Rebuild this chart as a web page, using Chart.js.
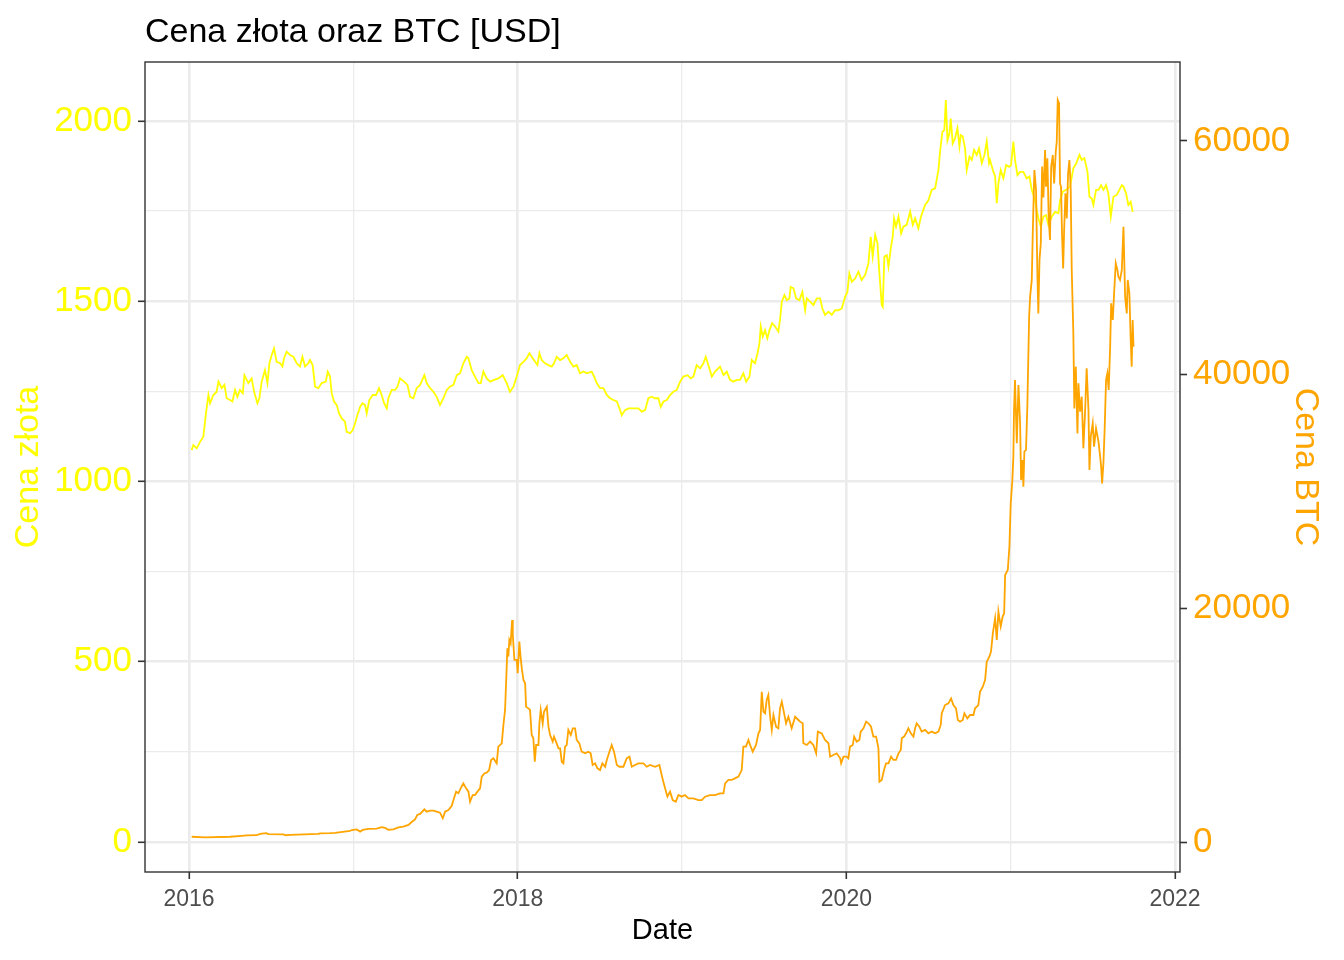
<!DOCTYPE html>
<html>
<head>
<meta charset="utf-8">
<script src="https://cdn.jsdelivr.net/npm/chart.js@4.4.1/dist/chart.umd.min.js"></script>
<style>
  html, body { margin: 0; padding: 0; background: #ffffff; }
  canvas { display: block; }
</style>
</head>
<body>
<canvas id="chart" width="1344" height="960"></canvas>
<script>
// dates as decimal years
var goldYear = [
  2016.016, 2016.026, 2016.047, 2016.067, 2016.087, 2016.103, 2016.118, 2016.128, 2016.148, 2016.168,
  2016.179, 2016.199, 2016.215, 2016.229, 2016.250, 2016.264, 2016.280, 2016.294, 2016.310, 2016.327,
  2016.337, 2016.351, 2016.361, 2016.381, 2016.396, 2016.416, 2016.428, 2016.442, 2016.462, 2016.477,
  2016.489, 2016.503, 2016.517, 2016.533, 2016.554, 2016.568, 2016.578, 2016.594, 2016.615, 2016.635,
  2016.655, 2016.675, 2016.690, 2016.706, 2016.726, 2016.736, 2016.752, 2016.767, 2016.787, 2016.807,
  2016.832, 2016.844, 2016.858, 2016.868, 2016.882, 2016.899, 2016.913, 2016.929, 2016.949, 2016.959,
  2016.980, 2016.996, 2017.010, 2017.024, 2017.041, 2017.055, 2017.071, 2017.081, 2017.097, 2017.118,
  2017.138, 2017.156, 2017.172, 2017.187, 2017.203, 2017.213, 2017.233, 2017.254, 2017.268, 2017.284,
  2017.308, 2017.329, 2017.345, 2017.365, 2017.385, 2017.406, 2017.432, 2017.446, 2017.467, 2017.487,
  2017.507, 2017.527, 2017.548, 2017.568, 2017.588, 2017.609, 2017.629, 2017.649, 2017.669, 2017.690,
  2017.700, 2017.720, 2017.740, 2017.761, 2017.775, 2017.791, 2017.811, 2017.832, 2017.856, 2017.882,
  2017.909, 2017.933, 2017.953, 2017.974, 2017.994, 2018.014, 2018.035, 2018.055, 2018.071, 2018.085,
  2018.106, 2018.120, 2018.132, 2018.146, 2018.166, 2018.187, 2018.207, 2018.221, 2018.237, 2018.258,
  2018.278, 2018.298, 2018.319, 2018.339, 2018.359, 2018.379, 2018.400, 2018.420, 2018.450, 2018.465,
  2018.481, 2018.501, 2018.521, 2018.542, 2018.562, 2018.582, 2018.603, 2018.623, 2018.633, 2018.653,
  2018.674, 2018.694, 2018.714, 2018.734, 2018.755, 2018.775, 2018.795, 2018.815, 2018.836, 2018.856,
  2018.870, 2018.887, 2018.907, 2018.927, 2018.947, 2018.968, 2018.988, 2019.008, 2019.033, 2019.053,
  2019.069, 2019.089, 2019.110, 2019.130, 2019.144, 2019.160, 2019.181, 2019.201, 2019.231, 2019.252,
  2019.272, 2019.292, 2019.312, 2019.333, 2019.353, 2019.373, 2019.390, 2019.410, 2019.424, 2019.444,
  2019.459, 2019.471, 2019.479, 2019.491, 2019.505, 2019.519, 2019.532, 2019.548, 2019.566, 2019.586,
  2019.596, 2019.607, 2019.623, 2019.637, 2019.653, 2019.661, 2019.678, 2019.694, 2019.714, 2019.732,
  2019.749, 2019.759, 2019.779, 2019.799, 2019.820, 2019.840, 2019.854, 2019.870, 2019.891, 2019.911,
  2019.931, 2019.951, 2019.972, 2019.992, 2020.006, 2020.018, 2020.033, 2020.053, 2020.073, 2020.093,
  2020.114, 2020.134, 2020.148, 2020.160, 2020.175, 2020.189, 2020.201, 2020.215, 2020.221, 2020.231,
  2020.246, 2020.256, 2020.270, 2020.282, 2020.290, 2020.302, 2020.317, 2020.333, 2020.347, 2020.367,
  2020.388, 2020.404, 2020.418, 2020.438, 2020.454, 2020.479, 2020.499, 2020.519, 2020.540, 2020.560,
  2020.570, 2020.584, 2020.596, 2020.605, 2020.615, 2020.627, 2020.635, 2020.647, 2020.661, 2020.676,
  2020.688, 2020.696, 2020.708, 2020.722, 2020.732, 2020.749, 2020.763, 2020.777, 2020.793, 2020.807,
  2020.824, 2020.840, 2020.854, 2020.868, 2020.874, 2020.891, 2020.905, 2020.915, 2020.925, 2020.939,
  2020.955, 2020.972, 2020.990, 2021.002, 2021.016, 2021.026, 2021.041, 2021.057, 2021.077, 2021.097,
  2021.114, 2021.128, 2021.148, 2021.168, 2021.183, 2021.199, 2021.215, 2021.229, 2021.250, 2021.270,
  2021.290, 2021.300, 2021.317, 2021.337, 2021.361, 2021.381, 2021.398, 2021.418, 2021.432, 2021.448,
  2021.467, 2021.479, 2021.493, 2021.503, 2021.519, 2021.534, 2021.550, 2021.564, 2021.580, 2021.594,
  2021.609, 2021.625, 2021.645, 2021.661, 2021.676, 2021.686, 2021.702, 2021.716, 2021.730, 2021.742
];
var goldPrice = [
  1087, 1101, 1092, 1110, 1124, 1189, 1240, 1217, 1240, 1249,
  1277, 1259, 1268, 1231, 1226, 1222, 1254, 1235, 1254, 1245,
  1295, 1282, 1273, 1286, 1249, 1217, 1231, 1277, 1309, 1273,
  1328, 1351, 1369, 1332, 1328, 1319, 1342, 1360, 1351, 1346,
  1328, 1319, 1346, 1319, 1328, 1337, 1323, 1263, 1259, 1273,
  1277, 1305, 1291, 1245, 1222, 1212, 1189, 1175, 1166, 1138,
  1134, 1143, 1161, 1184, 1207, 1217, 1212, 1189, 1226, 1240,
  1240, 1259, 1240, 1217, 1203, 1231, 1254, 1254, 1263, 1286,
  1277, 1268, 1235, 1231, 1259, 1268, 1295, 1273, 1259, 1249,
  1235, 1212, 1231, 1254, 1263, 1268, 1295, 1300, 1328, 1346,
  1342, 1309, 1291, 1273, 1273, 1305, 1286, 1277, 1282, 1286,
  1295, 1273, 1249, 1263, 1291, 1323, 1332, 1342, 1356, 1346,
  1332, 1323, 1356, 1337, 1328, 1323, 1319, 1328, 1346, 1337,
  1342, 1351, 1332, 1319, 1323, 1300, 1305, 1300, 1305, 1291,
  1273, 1259, 1259, 1240, 1231, 1226, 1222, 1198, 1184, 1198,
  1203, 1203, 1203, 1203, 1194, 1198, 1231, 1235, 1231, 1231,
  1207, 1222, 1226, 1240, 1249, 1254, 1277, 1291, 1295, 1286,
  1291, 1323, 1314, 1328, 1346, 1323, 1291, 1305, 1319, 1295,
  1305, 1282, 1277, 1282, 1282, 1300, 1277, 1291, 1337, 1328,
  1355, 1383, 1430, 1402, 1420, 1397, 1420, 1439, 1430, 1416,
  1448, 1499, 1517, 1503, 1508, 1540, 1536, 1508, 1503, 1526,
  1475, 1508, 1499, 1489, 1508, 1508, 1480, 1462, 1471, 1462,
  1475, 1475, 1480, 1512, 1526, 1577, 1554, 1563, 1582, 1559,
  1573, 1605, 1679, 1624, 1684, 1661, 1577, 1490, 1485, 1624,
  1628, 1596, 1647, 1679, 1730, 1707, 1735, 1688, 1707, 1712,
  1749, 1712, 1730, 1702, 1735, 1767, 1780, 1809, 1813, 1864,
  1915, 1970, 1975, 2058, 1947, 1966, 2007, 1938, 1952, 1980,
  1929, 1961, 1957, 1924, 1864, 1901, 1892, 1920, 1906, 1924,
  1883, 1906, 1943, 1883, 1892, 1864, 1846, 1772, 1827, 1864,
  1841, 1878, 1873, 1878, 1943, 1892, 1850, 1859, 1859, 1841,
  1846, 1809, 1780, 1730, 1707, 1735, 1739, 1712, 1735, 1748,
  1744, 1780, 1804, 1809, 1818, 1869, 1882, 1906, 1892, 1897,
  1859, 1790, 1785, 1767, 1809, 1809, 1822, 1809, 1822, 1799,
  1735, 1790, 1795, 1809, 1822, 1818, 1799, 1767, 1776, 1748
];

var btcYear = [
  2016.016, 2016.097, 2016.250, 2016.320, 2016.351, 2016.412, 2016.432, 2016.469, 2016.483, 2016.574,
  2016.590, 2016.615, 2016.787, 2016.797, 2016.858, 2016.888, 2016.980, 2016.990, 2017.020, 2017.041,
  2017.057, 2017.091, 2017.142, 2017.172, 2017.193, 2017.213, 2017.243, 2017.274, 2017.304, 2017.335,
  2017.355, 2017.375, 2017.389, 2017.406, 2017.432, 2017.446, 2017.467, 2017.487, 2017.507, 2017.527,
  2017.544, 2017.558, 2017.578, 2017.598, 2017.609, 2017.625, 2017.639, 2017.653, 2017.669, 2017.686,
  2017.700, 2017.710, 2017.726, 2017.740, 2017.755, 2017.771, 2017.781, 2017.797, 2017.811, 2017.826,
  2017.838, 2017.852, 2017.872, 2017.882, 2017.903, 2017.913, 2017.923, 2017.933, 2017.937, 2017.943,
  2017.949, 2017.957, 2017.966, 2017.970, 2017.980, 2017.994, 2018.000, 2018.010, 2018.018, 2018.026,
  2018.035, 2018.045, 2018.051, 2018.065, 2018.075, 2018.085, 2018.095, 2018.104, 2018.112, 2018.126,
  2018.132, 2018.140, 2018.152, 2018.160, 2018.177, 2018.187, 2018.197, 2018.213, 2018.221, 2018.233,
  2018.248, 2018.258, 2018.268, 2018.278, 2018.288, 2018.298, 2018.308, 2018.323, 2018.335, 2018.349,
  2018.359, 2018.375, 2018.389, 2018.410, 2018.430, 2018.444, 2018.456, 2018.471, 2018.485, 2018.501,
  2018.515, 2018.532, 2018.542, 2018.558, 2018.572, 2018.586, 2018.603, 2018.619, 2018.643, 2018.663,
  2018.680, 2018.694, 2018.714, 2018.734, 2018.765, 2018.785, 2018.805, 2018.836, 2018.862, 2018.876,
  2018.886, 2018.897, 2018.911, 2018.927, 2018.943, 2018.962, 2018.978, 2018.998, 2019.018, 2019.039,
  2019.069, 2019.099, 2019.120, 2019.140, 2019.170, 2019.201, 2019.231, 2019.252, 2019.262, 2019.282,
  2019.302, 2019.322, 2019.343, 2019.363, 2019.373, 2019.389, 2019.404, 2019.414, 2019.430, 2019.450,
  2019.465, 2019.475, 2019.485, 2019.495, 2019.505, 2019.515, 2019.525, 2019.536, 2019.546, 2019.556,
  2019.572, 2019.586, 2019.596, 2019.607, 2019.621, 2019.633, 2019.647, 2019.667, 2019.688, 2019.708,
  2019.718, 2019.734, 2019.738, 2019.759, 2019.779, 2019.799, 2019.816, 2019.826, 2019.850, 2019.870,
  2019.891, 2019.901, 2019.921, 2019.941, 2019.962, 2019.968, 2019.982, 2020.002, 2020.012, 2020.022,
  2020.039, 2020.047, 2020.063, 2020.079, 2020.087, 2020.104, 2020.120, 2020.134, 2020.150, 2020.164,
  2020.181, 2020.195, 2020.201, 2020.215, 2020.229, 2020.241, 2020.256, 2020.272, 2020.286, 2020.302,
  2020.317, 2020.331, 2020.337, 2020.351, 2020.363, 2020.377, 2020.392, 2020.408, 2020.418, 2020.428,
  2020.444, 2020.458, 2020.479, 2020.499, 2020.519, 2020.540, 2020.560, 2020.574, 2020.580, 2020.600,
  2020.621, 2020.637, 2020.651, 2020.667, 2020.678, 2020.692, 2020.708, 2020.718, 2020.736, 2020.753,
  2020.773, 2020.783, 2020.803, 2020.813, 2020.830, 2020.844, 2020.854, 2020.870, 2020.880, 2020.891,
  2020.905, 2020.915, 2020.925, 2020.939, 2020.951, 2020.960, 2020.966, 2020.982, 2020.992, 2021.000,
  2021.010, 2021.016, 2021.020, 2021.026, 2021.037, 2021.047, 2021.057, 2021.063, 2021.071, 2021.077,
  2021.083, 2021.093, 2021.101, 2021.112, 2021.118, 2021.128, 2021.134, 2021.144, 2021.154, 2021.162,
  2021.168, 2021.175, 2021.183, 2021.191, 2021.199, 2021.209, 2021.215, 2021.223, 2021.231, 2021.239,
  2021.246, 2021.256, 2021.264, 2021.274, 2021.280, 2021.286, 2021.294, 2021.300, 2021.306, 2021.312,
  2021.319, 2021.325, 2021.333, 2021.341, 2021.349, 2021.357, 2021.365, 2021.371, 2021.381, 2021.387,
  2021.396, 2021.406, 2021.412, 2021.422, 2021.432, 2021.442, 2021.452, 2021.462, 2021.473, 2021.479,
  2021.487, 2021.499, 2021.507, 2021.519, 2021.534, 2021.544, 2021.550, 2021.556, 2021.564, 2021.572,
  2021.580, 2021.588, 2021.596, 2021.605, 2021.611, 2021.621, 2021.629, 2021.639, 2021.649, 2021.655,
  2021.665, 2021.676, 2021.686, 2021.696, 2021.706, 2021.712, 2021.722, 2021.730, 2021.736, 2021.742,
  2021.747
];
var btcPrice = [
  450, 400, 450, 520, 560, 580, 700, 760, 680, 660,
  580, 610, 700, 740, 760, 780, 960, 1027, 1080, 890,
  1030, 1115, 1140, 1270, 1210, 1050, 1080, 1250, 1310, 1460,
  1710, 1940, 2310, 2400, 2800, 2600, 2680, 2680, 2600, 2510,
  2030, 2600, 2740, 3080, 3590, 4300, 4170, 4590, 5020, 4590,
  4310, 3450, 4020, 4020, 4310, 4590, 5590, 5870, 5930, 6160,
  7020, 7160, 6730, 8160, 8440, 10010, 11300, 15000, 16580, 15870,
  17290, 17000, 19000, 17720, 15580, 15580, 14440, 17150, 15730, 14730,
  13870, 13580, 11580, 11440, 11300, 9160, 8870, 6870, 8300, 8300,
  10150, 11300, 10150, 11150, 11580, 9870, 9160, 8590, 9020, 8590,
  8020, 8020, 6870, 6730, 8160, 8300, 9590, 9160, 9730, 9730,
  8730, 8440, 7730, 7590, 7730, 7590, 6590, 6730, 6300, 6160,
  6730, 6440, 7020, 7730, 8300, 7730, 6590, 6440, 6440, 7160,
  7300, 6440, 6590, 6730, 6730, 6440, 6590, 6440, 6590, 5730,
  5160, 4590, 3880, 4310, 3590, 3450, 4020, 3880, 4020, 3730,
  3730, 3590, 3590, 3880, 4020, 4020, 4160, 4160, 5020, 5310,
  5310, 5450, 5590, 6160, 8160, 8160, 8730, 8300, 7730, 8300,
  9300, 9590, 12860, 11150, 11010, 12150, 12580, 10720, 9590, 10860,
  9870, 9730, 11440, 12010, 11010, 10150, 10720, 9730, 10720, 10440,
  10300, 10160, 8450, 8300, 8590, 8300, 7590, 9450, 9300, 8730,
  8450, 7300, 7450, 7590, 7160, 6730, 7300, 7300, 7160, 8160,
  8300, 9020, 8590, 8730, 9450, 9730, 10300, 10160, 9870, 9020,
  9020, 8020, 5160, 5310, 6160, 6730, 6730, 7300, 7020, 7020,
  7590, 7880, 8880, 9020, 9300, 9730, 9300, 9020, 9730, 10160,
  9870, 9450, 9590, 9300, 9450, 9300, 9450, 10020, 11010, 11720,
  11870, 12290, 11720, 11440, 10440, 10300, 10440, 11010, 10580, 10870,
  10870, 11440, 11720, 12860, 13290, 13860, 15430, 15860, 16290, 17860,
  19150, 17300, 19720, 18440, 19290, 19580, 22850, 23280, 25270, 28980,
  30980, 32980, 36970, 39540, 34120, 39100, 35830, 30980, 32690, 30410,
  33400, 33550, 37250, 44960, 46670, 48100, 52090, 57510, 55800, 48670,
  45240, 49810, 51230, 57800, 55150, 59220, 56080, 58510, 53370, 51520,
  57800, 58790, 56360, 59070, 59930, 63500, 63220, 56360, 56080, 52080,
  49090, 52370, 55510, 53370, 57230, 58360, 55930, 49090, 43530, 37110,
  40680, 34970, 39250, 36820, 38110, 33690, 36680, 40530, 36960, 31840,
  34690, 35830, 33830, 35400, 34260, 33000, 32130, 30690, 32410, 35540,
  39540, 40110, 38680, 42390, 46100, 44680, 46960, 49530, 48960, 48390,
  48100, 48960, 52660, 46670, 45240, 48100, 46960, 42960, 40680, 44680,
  42390
];

// axis breaks: labelled (major) and unlabelled (minor) grid lines
var xTicks = [2016, 2018, 2020, 2022];
var xMinor = [2017, 2019, 2021];
var goldTicks = [0, 500, 1000, 1500, 2000];
var goldMinor = [250, 750, 1250, 1750];
var btcTicks = [0, 20000, 40000, 60000];

var FONT = 'Arial, "Liberation Sans", sans-serif';
var GOLD = '#FFFF00';
var BTC = '#FFA500';
var GRID = '#EBEBEB';
var DARK = '#333333';

function pairs(xs, ys) {
  return xs.map(function (x, i) { return { x: x, y: ys[i] }; });
}

function setTicks(values) {
  return function (scale) {
    scale.ticks = values.slice().sort(function (a, b) { return a - b; })
      .map(function (v) { return { value: v }; });
  };
}

var frame = {
  id: 'frame',
  afterDraw: function (chart) {
    var ctx = chart.ctx, a = chart.chartArea;
    ctx.save();
    ctx.strokeStyle = DARK;
    ctx.lineWidth = 1.4;
    ctx.strokeRect(a.left, a.top, a.right - a.left, a.bottom - a.top);
    ctx.fillStyle = '#000000';
    ctx.font = '34px ' + FONT;
    ctx.textBaseline = 'alphabetic';
    ctx.textAlign = 'left';
    ctx.fillText('Cena złota oraz BTC [USD]', a.left, 42);
    ctx.restore();
  }
};

new Chart(document.getElementById('chart'), {
  type: 'line',
  data: {
    datasets: [{
      label: 'BTC',
      data: pairs(btcYear, btcPrice),
      yAxisID: 'y2',
      borderColor: BTC,
      borderWidth: 1.8,
      pointRadius: 0,
      tension: 0,
      order: 0
    }, {
      label: 'Złoto',
      data: pairs(goldYear, goldPrice),
      yAxisID: 'y',
      borderColor: GOLD,
      borderWidth: 1.8,
      pointRadius: 0,
      tension: 0,
      order: 1
    }]
  },
  options: {
    responsive: false,
    animation: false,
    devicePixelRatio: 1,
    layout: { padding: { top: 62, left: 0, right: 0, bottom: 0 } },
    plugins: { legend: { display: false }, tooltip: { enabled: false } },
    scales: {
      x: {
        type: 'linear',
        min: 2015.732,
        max: 2022.03,
        afterBuildTicks: setTicks(xTicks.concat(xMinor)),
        afterFit: function (s) { s.height = 88; },
        border: { display: false },
        grid: {
          color: GRID,
          lineWidth: function (c) { return xTicks.indexOf(c.tick.value) >= 0 ? 2.6 : 1.3; },
          tickColor: function (c) { return xTicks.indexOf(c.tick.value) >= 0 ? DARK : 'rgba(0,0,0,0)'; },
          tickWidth: 1.6,
          tickLength: 7
        },
        ticks: {
          autoSkip: false,
          maxRotation: 0,
          padding: 7,
          color: '#4D4D4D',
          font: { family: FONT, size: 23 },
          callback: function (v) { return xTicks.indexOf(v) >= 0 ? String(v) : ''; }
        },
        title: {
          display: true,
          text: 'Date',
          color: '#000000',
          font: { family: FONT, size: 29 },
          padding: { top: 0, bottom: 12 }
        }
      },
      y: {
        position: 'left',
        min: -83.2,
        max: 2163.7,
        afterBuildTicks: setTicks(goldTicks.concat(goldMinor)),
        afterFit: function (s) { s.width = 145; },
        border: { display: false },
        grid: {
          color: GRID,
          lineWidth: function (c) { return goldTicks.indexOf(c.tick.value) >= 0 ? 2.6 : 1.3; },
          tickColor: function (c) { return goldTicks.indexOf(c.tick.value) >= 0 ? DARK : 'rgba(0,0,0,0)'; },
          tickWidth: 1.6,
          tickLength: 7
        },
        ticks: {
          autoSkip: false,
          padding: 6,
          color: GOLD,
          font: { family: FONT, size: 35 },
          callback: function (v) { return goldTicks.indexOf(v) >= 0 ? String(v) : ''; }
        },
        title: {
          display: true,
          text: 'Cena złota',
          color: GOLD,
          font: { family: FONT, size: 34 },
          padding: { top: 8, bottom: 0 }
        }
      },
      y2: {
        position: 'right',
        min: -2567,
        max: 66752,
        afterBuildTicks: setTicks(btcTicks),
        afterFit: function (s) { s.width = 164; },
        border: { display: false },
        grid: {
          drawOnChartArea: false,
          tickColor: DARK,
          tickWidth: 1.6,
          tickLength: 7
        },
        ticks: {
          autoSkip: false,
          padding: 6,
          color: BTC,
          font: { family: FONT, size: 35 },
          callback: function (v) { return String(v); }
        },
        title: {
          display: true,
          text: 'Cena BTC',
          color: BTC,
          font: { family: FONT, size: 34 },
          padding: { top: 18, bottom: 0 }
        }
      }
    }
  },
  plugins: [frame]
});
</script>
</body>
</html>
